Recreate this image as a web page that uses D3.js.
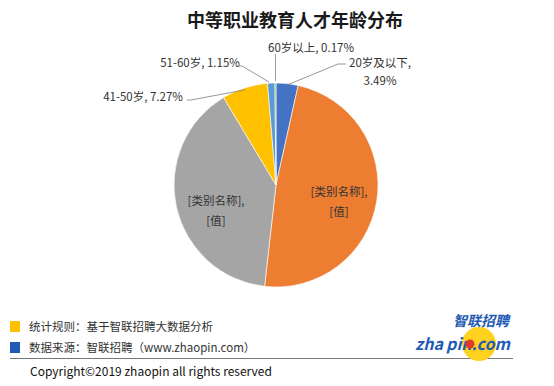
<!DOCTYPE html>
<html>
<head>
<meta charset="utf-8">
<script src="https://cdn.jsdelivr.net/npm/d3@7"></script>
<style>
  body { margin: 0; background: #fff; }
  svg text { font-family: "Noto Sans CJK SC", "Noto Sans", sans-serif; }
</style>
</head>
<body>
<div id="chart"></div>
<script>
// data
var categories = ['20岁及以下', '21-30岁', '31-40岁', '41-50岁', '51-60岁', '60岁以上'];
var values = [3.49, 48.30, 39.62, 7.27, 1.15, 0.17];
var labelText = [
  ['20岁及以下,', '3.49%'],
  ['[类别名称],', '[值]'],
  ['[类别名称],', '[值]'],
  ['41-50岁, 7.27%'],
  ['51-60岁, 1.15%'],
  ['60岁以上, 0.17%']
];
var colors = ['#4472C4', '#ED7D31', '#A5A5A5', '#FFC000', '#5B9BD5', '#70AD47'];

var width = 554, height = 386;
var cx = 276, cy = 185, radius = 102;

var svg = d3.select('#chart').append('svg')
  .attr('width', width).attr('height', height);

svg.append('text')
  .attr('x', 295).attr('y', 27)
  .attr('text-anchor', 'middle')
  .attr('font-size', 18).attr('font-weight', 'bold').attr('fill', '#1a1a1a')
  .text('中等职业教育人才年龄分布');

var pie = d3.pie().value(function (d) { return d; }).sort(null);
var arc = d3.arc().innerRadius(0).outerRadius(radius);
var arcs = pie(values);

var g = svg.append('g').attr('transform', 'translate(' + cx + ',' + cy + ')');
g.selectAll('path').data(arcs).enter().append('path')
  .attr('d', arc)
  .attr('fill', function (d, i) { return colors[i]; })
  .attr('stroke', '#fff').attr('stroke-width', 0.6);

// label placement (relative to pie centre); outside ones get a leader line
var labelPos = [
  { x: 104, y: -126, anchor: 'middle', elbow: 62, lines: [-122, -104] },
  { x: 63, y: 7, anchor: 'middle' },
  { x: -60, y: 16, anchor: 'middle' },
  { x: -133, y: -88, anchor: 'middle', elbow: -87 },
  { x: -76, y: -122, anchor: 'middle', elbow: -31 },
  { x: 35, y: -137, anchor: 'middle' }
];

var lab = g.selectAll('g.lab').data(arcs).enter().append('g').attr('class', 'lab');
lab.each(function (d, i) {
  var p = labelPos[i];
  var sel = d3.select(this);
  var t = labelText[i];
  t.forEach(function (s, k) {
    sel.append('text')
      .attr('x', p.x)
      .attr('y', (p.lines ? p.lines[k] : p.y + k * 20) + 4)
      .attr('text-anchor', p.anchor)
      .attr('font-size', 11.5).attr('fill', '#333')
      .text(s);
  });
  if (i === 1 || i === 2) return;
  var mid = (d.startAngle + d.endAngle) / 2;
  var ax = Math.sin(mid) * radius, ay = -Math.cos(mid) * radius;
  var pts;
  if (i === 5) {
    pts = [[ax, ay - 2], [ax, p.y + 6]];
  } else if (i === 0) {
    pts = [[ax + 1, ay + 1], [p.elbow, p.lines[0] + 1], [p.elbow + 8, p.lines[0] + 1]];
  } else if (i === 3) {
    pts = [[ax, ay + 2], [p.elbow + 2, p.y + 3], [p.elbow - 2, p.y + 3]];
  } else {
    pts = [[ax - 2, ay - 1], [p.elbow - 3, p.y + 3], [p.elbow - 8, p.y + 3]];
  }
  sel.append('path')
    .attr('d', d3.line()(pts))
    .attr('fill', 'none').attr('stroke', '#7f7f7f').attr('stroke-width', 0.8);
});

// footer notes
var notes = ['统计规则：基于智联招聘大数据分析', '数据来源：智联招聘（www.zhaopin.com）'];
var noteColors = ['#FFC000', '#1F5BB5'];
notes.forEach(function (s, i) {
  svg.append('rect').attr('x', 10).attr('y', 321 + i * 21).attr('width', 10).attr('height', 11)
    .attr('fill', noteColors[i]);
  svg.append('text').attr('x', 29).attr('y', 331 + i * 21)
    .attr('font-size', 11.5).attr('fill', '#333').text(s);
});
svg.append('line').attr('x1', 10).attr('x2', 513).attr('y1', 358.5).attr('y2', 358.5)
  .attr('stroke', '#777').attr('stroke-width', 1);
svg.append('text').attr('x', 30).attr('y', 376)
  .attr('font-size', 12).attr('fill', '#111').text('Copyright©2019 zhaopin all rights reserved');

// logo
var logo = svg.append('g');
logo.append('circle').attr('cx', 479).attr('cy', 344).attr('r', 17).attr('fill', '#FFD21F');
logo.append('text').attr('x', 509).attr('y', 326).attr('text-anchor', 'end')
  .attr('font-size', 14).attr('font-weight', 'bold').attr('font-style', 'italic')
  .attr('fill', '#1F5BB5').text('智联招聘');
logo.append('text').attr('x', 510).attr('y', 350).attr('text-anchor', 'end')
  .attr('font-size', 16).attr('font-weight', 'bold').attr('font-style', 'italic')
  .attr('fill', '#1F5BB5').attr('textLength', 95)
  .text('zha\u2009pin.com');
logo.append('circle').attr('cx', 470).attr('cy', 344).attr('r', 4.5).attr('fill', '#E03A2A');
</script>
</body>
</html>
